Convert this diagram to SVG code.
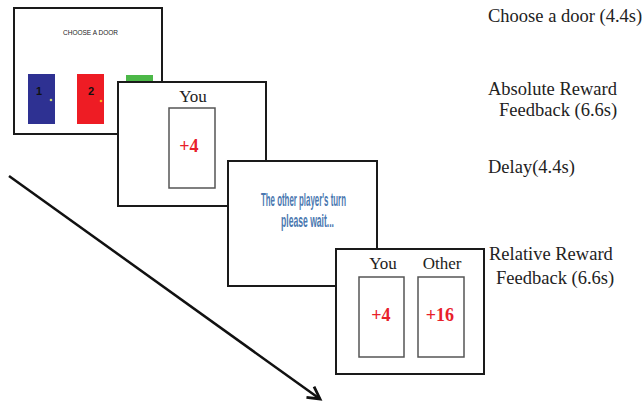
<svg xmlns="http://www.w3.org/2000/svg" width="643" height="407" viewBox="0 0 643 407">
<style>
.panel{fill:#fff;stroke:#1a1a1a;stroke-width:2}
.card{fill:#fff;stroke:#555;stroke-width:1.5}
.lbl{font-family:"Liberation Serif",serif;font-size:18.5px;fill:#222}
.hd{font-family:"Liberation Serif",serif;font-size:17px;fill:#222;text-anchor:middle}
.pts{font-family:"Liberation Serif",serif;font-size:18px;font-weight:bold;fill:#e8202a;text-anchor:middle}
.wait{font-family:"Liberation Sans",sans-serif;font-size:19px;font-weight:bold;fill:#4a78b0;text-anchor:middle}
.num{font-family:"Liberation Sans",sans-serif;font-size:11px;font-weight:bold;fill:#111;text-anchor:middle}
</style>
<defs>
<marker id="ah" markerWidth="16" markerHeight="16" refX="13" refY="8" orient="auto" markerUnits="userSpaceOnUse">
<path d="M1,1.5 L13,8 L1,14.5" fill="none" stroke="#111" stroke-width="2.8"/>
</marker>
</defs>
<rect width="643" height="407" fill="#fff"/>
<g id="choose-door">
<rect class="panel" x="14" y="8" width="148" height="126"/>
<text x="90.5" y="35" font-family="Liberation Sans, sans-serif" font-size="7.5" fill="#222" text-anchor="middle" textLength="55" lengthAdjust="spacingAndGlyphs">CHOOSE A DOOR</text>
<rect x="28" y="74" width="27" height="50" fill="#2e3192"/>
<text class="num" x="39" y="95">1</text>
<circle cx="51" cy="100" r="1.3" fill="#c8d870"/>
<rect x="77" y="74" width="27" height="50" fill="#ee1c24"/>
<text class="num" x="91" y="95">2</text>
<circle cx="101" cy="101" r="1.3" fill="#f5b020"/>
<rect x="126" y="75" width="27" height="50" fill="#4cb848"/>
</g>
<g id="absolute-feedback">
<rect class="panel" x="118" y="82" width="148" height="124"/>
<text class="hd" x="193" y="102">You</text>
<rect class="card" x="169" y="108" width="46" height="80"/>
<text class="pts" x="189" y="152">+4</text>
</g>
<g id="delay">
<rect class="panel" x="228" y="161" width="149" height="125"/>
<text class="wait" x="303.5" y="206" textLength="85" lengthAdjust="spacingAndGlyphs">The other player's turn</text>
<text class="wait" x="307.5" y="227" textLength="53" lengthAdjust="spacingAndGlyphs">please wait...</text>
</g>
<g id="relative-feedback">
<rect class="panel" x="336" y="249" width="148" height="125"/>
<text class="hd" x="383" y="269">You</text>
<text class="hd" x="442" y="269">Other</text>
<rect class="card" x="359" y="277" width="45" height="80"/>
<rect class="card" x="418" y="277" width="46" height="80"/>
<text class="pts" x="381" y="321">+4</text>
<text class="pts" x="440" y="321">+16</text>
</g>
<g id="labels">
<text class="lbl" x="488" y="22">Choose a door (4.4s)</text>
<text class="lbl" x="488" y="95">Absolute Reward</text>
<text class="lbl" x="499" y="116">Feedback (6.6s)</text>
<text class="lbl" x="488" y="173">Delay(4.4s)</text>
<text class="lbl" x="489" y="260">Relative Reward</text>
<text class="lbl" x="496" y="284">Feedback (6.6s)</text>
</g>
<g id="connectors">
<line x1="9" y1="176" x2="320" y2="399" stroke="#111" stroke-width="2.5" marker-end="url(#ah)"/>
</g>
</svg>
